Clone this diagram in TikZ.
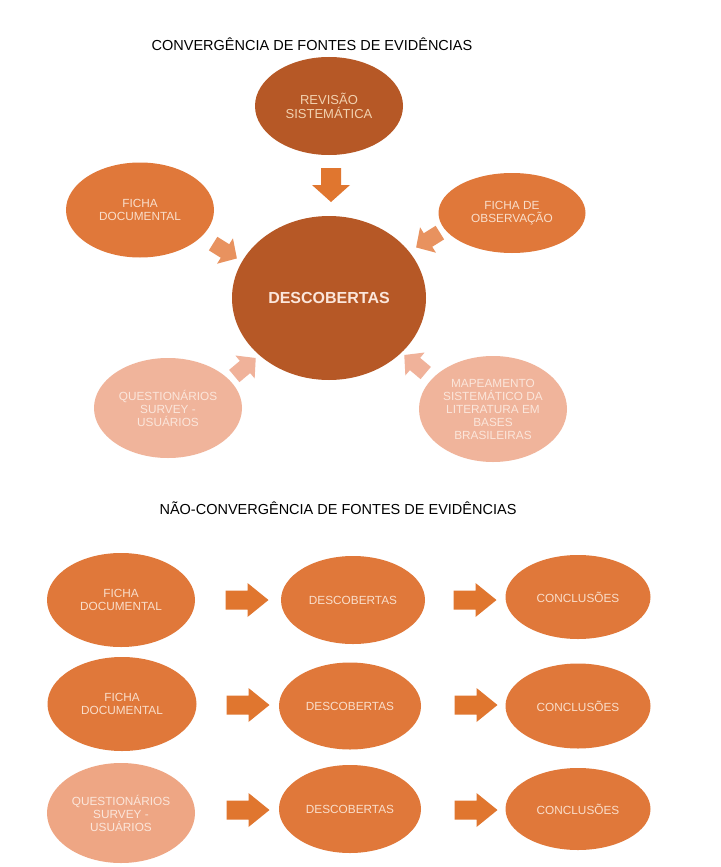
\documentclass[tikz,border=0pt]{standalone}
\usepackage{fontspec}
\setmainfont{Liberation Sans}
\usetikzlibrary{shapes.geometric}

\definecolor{deeporange}{HTML}{B65826}
\definecolor{midorange}{HTML}{E0783A}
\definecolor{paleorange}{HTML}{F0B49B}
\definecolor{paledeep}{HTML}{EEA684}
\definecolor{arrowmain}{HTML}{E0762F}
\definecolor{arrowsoft}{HTML}{E8925F}
\definecolor{arrowpale}{HTML}{F0B29A}
\definecolor{lighttext}{HTML}{F9DECB}
\definecolor{tantext}{HTML}{F2D2B0}
\definecolor{paletext}{HTML}{FBE6DB}

\tikzset{
  blob/.style={ellipse, inner sep=0pt, align=center,
    font=\fontsize{11.8}{13}\selectfont, text=lighttext},
  title/.style={font=\fontsize{14.5}{16}\selectfont, text=black},
  % block arrow shapes, pointing along +x before rotation
  bigarrow/.pic={\path[pic actions] (-17,-10) -- (0,-10) -- (0,-19)
      -- (17,0) -- (0,19) -- (0,10) -- (-17,10) -- cycle;},
  sidearrow/.pic={\path[pic actions] (-14,-8) -- (0,-8) -- (0,-15)
      -- (14,0) -- (0,15) -- (0,8) -- (-14,8) -- cycle;},
  rowarrow/.pic={\path[pic actions] (-21.5,-9.5) -- (0.5,-9.5) -- (0.5,-17)
      -- (21.5,0) -- (0.5,17) -- (0.5,9.5) -- (-21.5,9.5) -- cycle;},
}

\begin{document}
\begin{tikzpicture}[x=1pt, y=-1pt]
\useasboundingbox[fill=white] (0,0) rectangle (720,867);

% ---------- converging sources ----------
\node[title] (t1) at (312,44) {CONVERGÊNCIA DE FONTES DE EVIDÊNCIAS};

\node[blob, fill=deeporange, minimum width=148pt, minimum height=98pt,
  text=tantext, font=\fontsize{13}{14}\selectfont]
  (rev) at (329,106) {REVISÃO\\SISTEMÁTICA};

\node[blob, fill=deeporange, minimum width=194pt, minimum height=164pt,
  text=paletext, font=\fontsize{16}{18}\selectfont\bfseries]
  (desc) at (329,298) {DESCOBERTAS};

\node[blob, fill=midorange, minimum width=148pt, minimum height=95pt]
  (fdoc) at (140,210) {FICHA\\DOCUMENTAL};
\node[blob, fill=midorange, minimum width=147pt, minimum height=80pt]
  (fobs) at (512,213) {FICHA DE\\OBSERVAÇÃO};
\node[blob, fill=paleorange, minimum width=148pt, minimum height=100pt, text=paletext]
  (quest) at (168,408) {QUESTIONÁRIOS\\SURVEY -\\USUÁRIOS};
\node[blob, fill=paleorange, minimum width=148pt, minimum height=106pt, text=paletext]
  (mapa) at (493,409) {MAPEAMENTO\\SISTEMÁTICO DA\\LITERATURA EM\\BASES\\BRASILEIRAS};

\pic[fill=arrowmain, rotate=-90] (arev) at (331,185) {bigarrow};
\pic[fill=arrowsoft, rotate=-32] (afdoc) at (225,251) {sidearrow};
\pic[fill=arrowsoft, rotate=-148] (afobs) at (428,240) {sidearrow};
\pic[fill=arrowpale, rotate=40] (aquest) at (245,367) {sidearrow};
\pic[fill=arrowpale, rotate=140] (amapa) at (415,364) {sidearrow};

% ---------- non-converging sources ----------
\node[title] (t2) at (338,508) {NÃO-CONVERGÊNCIA DE FONTES DE EVIDÊNCIAS};

\node[blob, fill=midorange, minimum width=148pt, minimum height=94pt]
  (f1) at (121,600) {FICHA\\DOCUMENTAL};
\node[blob, fill=midorange, minimum width=144pt, minimum height=88pt]
  (d1) at (353,600) {DESCOBERTAS};
\node[blob, fill=midorange, minimum width=145pt, minimum height=84pt]
  (c1) at (578,597) {CONCLUSÕES};

\node[blob, fill=midorange, minimum width=149pt, minimum height=94pt]
  (f2) at (122,704) {FICHA\\DOCUMENTAL};
\node[blob, fill=midorange, minimum width=142pt, minimum height=87pt]
  (d2) at (350,706) {DESCOBERTAS};
\node[blob, fill=midorange, minimum width=145pt, minimum height=85pt]
  (c2) at (578,706) {CONCLUSÕES};

\node[blob, fill=paledeep, minimum width=148pt, minimum height=100pt, text=paletext]
  (q3) at (121,813) {QUESTIONÁRIOS\\SURVEY -\\USUÁRIOS};
\node[blob, fill=midorange, minimum width=142pt, minimum height=88pt]
  (d3) at (350,809) {DESCOBERTAS};
\node[blob, fill=midorange, minimum width=145pt, minimum height=82pt]
  (c3) at (578,809) {CONCLUSÕES};

\pic[fill=arrowmain] (r1a) at (247,600) {rowarrow};
\pic[fill=arrowmain] (r1b) at (475,600) {rowarrow};
\pic[fill=arrowmain] (r2a) at (248,705) {rowarrow};
\pic[fill=arrowmain] (r2b) at (476,705) {rowarrow};
\pic[fill=arrowmain] (r3a) at (248,810) {rowarrow};
\pic[fill=arrowmain] (r3b) at (476,810) {rowarrow};
\end{tikzpicture}
\end{document}
